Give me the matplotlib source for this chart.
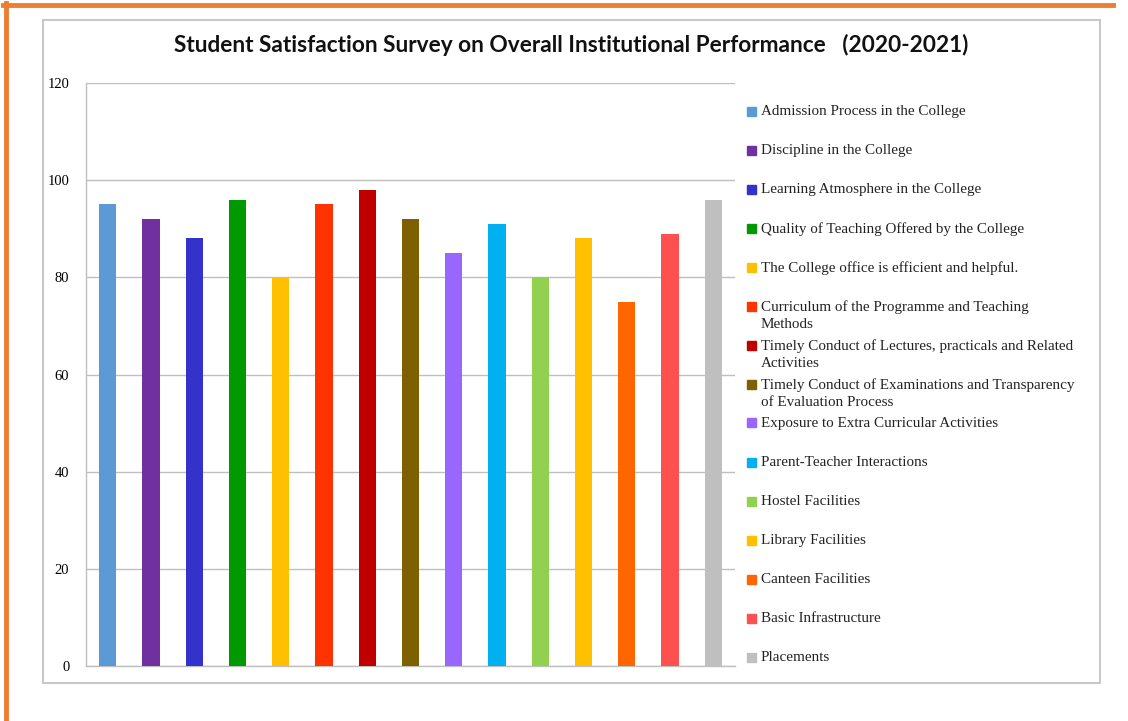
import matplotlib.pyplot as plt
from matplotlib.patches import Rectangle
from matplotlib.lines import Line2D

# survey items, shown in the legend
items = [
    "Admission Process in the College",
    "Discipline in the College",
    "Learning Atmosphere in the College",
    "Quality of Teaching Offered by the College",
    "The College office is efficient and helpful.",
    "Curriculum of the Programme and Teaching\nMethods",
    "Timely Conduct of Lectures, practicals and Related\nActivities",
    "Timely Conduct of Examinations and Transparency\nof Evaluation Process",
    "Exposure to Extra Curricular Activities",
    "Parent-Teacher Interactions",
    "Hostel Facilities",
    "Library Facilities",
    "Canteen Facilities",
    "Basic Infrastructure",
    "Placements",
]
scores = [95, 92, 88, 96, 80, 95, 98, 92, 85, 91, 80, 88, 75, 89, 96]
colors = ["#5B9BD5", "#7030A0", "#3333CC", "#009900", "#FFC000",
          "#FF3300", "#C00000", "#7F6000", "#9966FF", "#00B0F0",
          "#92D050", "#FFC000", "#FF6600", "#FF5050", "#BFBFBF"]
yticks = [0, 20, 40, 60, 80, 100, 120]

W, H = 1128, 721
fig = plt.figure(figsize=(W / 100, H / 100), dpi=100)
fig.patch.set_facecolor("white")

# orange page border (top + left)
fig.add_artist(Line2D([3 / W, 1113 / W], [1 - 5 / H, 1 - 5 / H], color="#ED7D31", lw=3.5))
fig.add_artist(Line2D([5.5 / W, 5.5 / W], [0, 1 - 3 / H], color="#ED7D31", lw=3.5))

# gray chart frame
fig.add_artist(Rectangle((43 / W, 1 - 683 / H), (1100 - 43) / W, (683 - 20) / H,
                         transform=fig.transFigure, fill=False, ec="#C8C8C8", lw=1.5))

fig.text(571 / W, 1 - 45 / H, "Student Satisfaction Survey on Overall Institutional Performance   (2020-2021)",
         ha="center", va="center", fontsize=16.3, fontweight="bold", family="Lato", color="#111111")

ax = fig.add_axes([86 / W, 1 - 666 / H, (735 - 86) / W, (666 - 83) / H])
x = list(range(len(scores)))
ax.bar(x, scores, width=0.4, color=colors, zorder=3)
ax.set_xlim(-0.5, 14.5)
ax.set_ylim(0, 120)
ax.set_yticks(yticks)
ax.set_xticks([])
ax.yaxis.grid(True, color="#BFBFBF", lw=1, zorder=0)
for s in ["top", "right"]:
    ax.spines[s].set_visible(False)
for s in ["left", "bottom"]:
    ax.spines[s].set_color("#BFBFBF")
    ax.spines[s].set_linewidth(1)
ax.tick_params(axis="y", length=0, pad=12, labelsize=10.5)
for lab in ax.get_yticklabels():
    lab.set_family("Liberation Serif")

# legend drawn by hand
y0, step = 111, 39
for i, (lab, c) in enumerate(zip(items, colors)):
    yc = y0 + i * step
    fig.add_artist(Rectangle((747 / W, 1 - (yc + 4.5) / H), 9 / W, 9 / H,
                             transform=fig.transFigure, color=c))
    fig.text(761 / W, 1 - (yc - 6) / H, lab, ha="left", va="top", fontsize=10.9,
             family="Liberation Serif", color="#222222", linespacing=1.4)

plt.savefig("out.png", dpi=100)
